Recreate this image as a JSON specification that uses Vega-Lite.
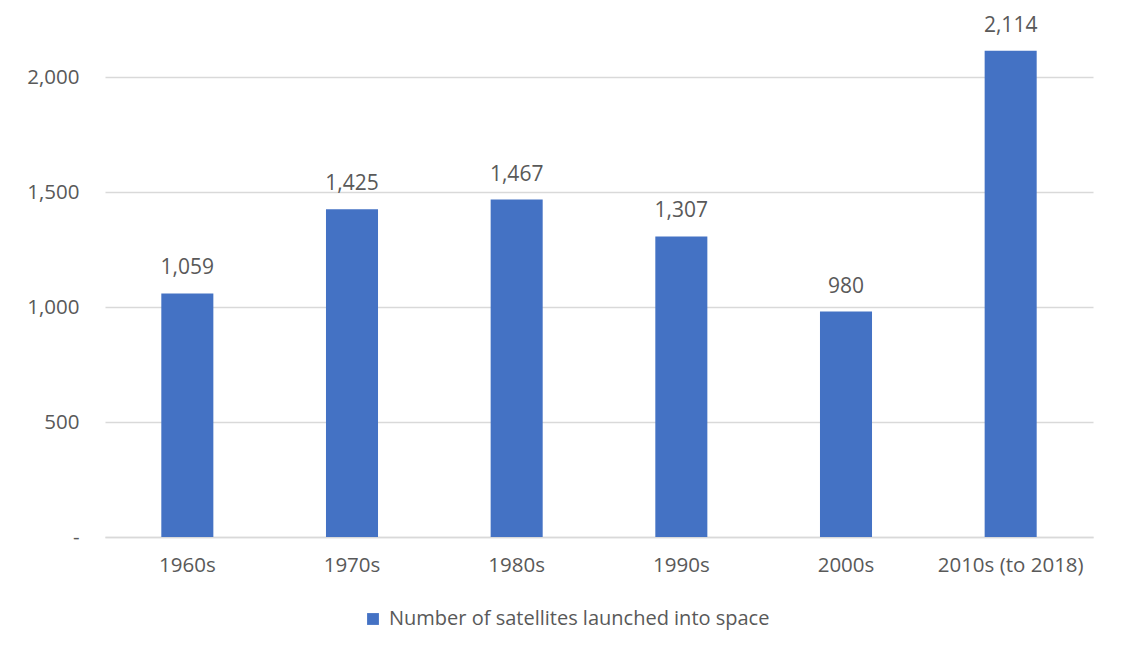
{
  "$schema": "https://vega.github.io/schema/vega-lite/v6.json",
  "autosize": {"type": "none"},
  "width": 988,
  "height": 529,
  "padding": {"left": 105, "top": 8, "right": 29, "bottom": 118},
  "background": "white",
  "config": {
    "view": {"stroke": null},
    "font": "Open Sans",
    "axis": {"labelFont": "Open Sans", "labelColor": "#595959", "labelFontSize": 20.5, "domain": false, "ticks": false, "title": null},
    "legend": {"labelFont": "Open Sans", "labelColor": "#595959", "labelFontSize": 20, "labelLimit": 600}
  },
  "data": {
    "values": [
      {"decade": "1960s", "satellites": 1059},
      {"decade": "1970s", "satellites": 1425},
      {"decade": "1980s", "satellites": 1467},
      {"decade": "1990s", "satellites": 1307},
      {"decade": "2000s", "satellites": 980},
      {"decade": "2010s (to 2018)", "satellites": 2114}
    ]
  },
  "encoding": {
    "x": {
      "field": "decade", "type": "nominal", "sort": null,
      "scale": {"paddingInner": 0.684, "paddingOuter": 0.342},
      "axis": {"labelAngle": 0, "labelPadding": 18, "labelBaseline": "top", "grid": false, "domain": true, "domainColor": "#d9d9d9", "domainWidth": 1.5}
    },
    "y": {
      "field": "satellites", "type": "quantitative",
      "scale": {"domain": [0, 2300], "nice": false},
      "axis": {"values": [0, 500, 1000, 1500, 2000], "labelExpr": "datum.value == 0 ? '-' : format(datum.value, ',')", "labelPadding": 26, "grid": true, "gridColor": "#d9d9d9", "gridWidth": 1.5}
    }
  },
  "layer": [
    {
      "mark": {"type": "bar", "color": "#4472C4"},
      "encoding": {
        "color": {
          "datum": "Number of satellites launched into space",
          "type": "nominal",
          "scale": {"range": ["#4472C4"]},
          "legend": {"orient": "none", "legendX": 258, "legendY": 601, "title": null, "symbolType": "square", "symbolSize": 140, "symbolStrokeWidth": 0, "labelOffset": 6}
        }
      }
    },
    {
      "mark": {"type": "text", "baseline": "alphabetic", "dy": -19, "fontSize": 21, "color": "#595959", "font": "Open Sans"},
      "encoding": {"text": {"field": "satellites", "type": "quantitative", "format": ","}}
    }
  ]
}
